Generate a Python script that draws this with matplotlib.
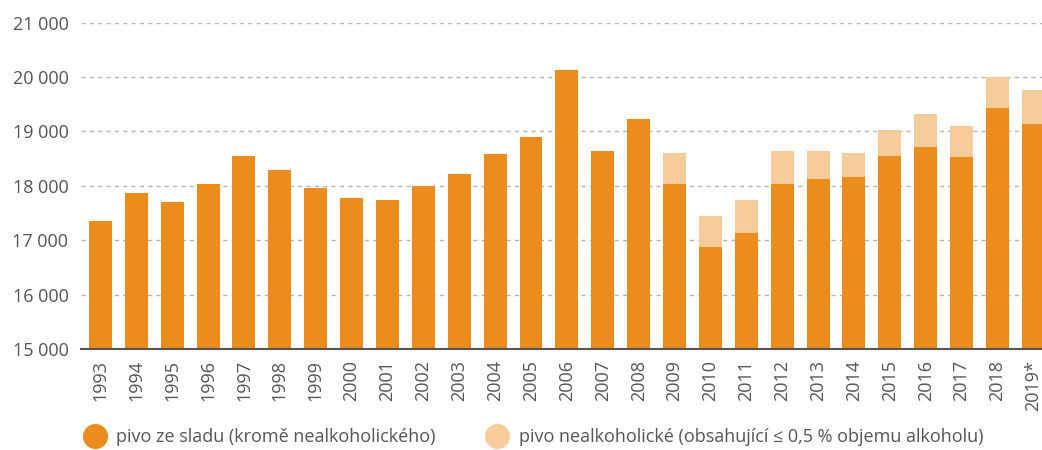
import matplotlib
matplotlib.use("Agg")
import matplotlib.pyplot as plt
from matplotlib.lines import Line2D
from matplotlib.ticker import FuncFormatter

plt.rcParams['font.family'] = ['Open Sans', 'DejaVu Sans']

# data (thousands of hl)
years = ["1993", "1994", "1995", "1996", "1997", "1998", "1999", "2000", "2001",
         "2002", "2003", "2004", "2005", "2006", "2007", "2008", "2009", "2010",
         "2011", "2012", "2013", "2014", "2015", "2016", "2017", "2018", "2019*"]
beer = [17350, 17870, 17700, 18030, 18550, 18290, 17960, 17780, 17740,
        18000, 18220, 18585, 18900, 20130, 18640, 19230, 18030, 16875,
        17130, 18030, 18125, 18160, 18550, 18710, 18530, 19430, 19135]
nonalc = [0, 0, 0, 0, 0, 0, 0, 0, 0,
          0, 0, 0, 0, 0, 0, 0, 570, 570,
          610, 610, 515, 440, 475, 610, 570, 570, 625]

orange = '#EB8C1C'
light = '#F7CC9C'
grey = '#555555'

fig = plt.figure(figsize=(10.42, 4.5), dpi=100)
ax = fig.add_axes([81 / 1042, 101 / 450, 1 - 81 / 1042, (349 - 22.5) / 450])

x = range(len(years))
ax.bar(x, [b - 15000 for b in beer], bottom=15000, width=0.64, color=orange, zorder=3)
ax.bar(x, nonalc, bottom=beer, width=0.64, color=light, zorder=3)

ax.set_ylim(15000, 21000)
ax.set_xlim(-0.54, 26.24)
ax.set_yticks(range(15000, 21001, 1000))
ax.yaxis.set_major_formatter(FuncFormatter(lambda v, p: f"{int(v):,}".replace(",", " ")))
ax.set_xticks(list(x))
ax.set_xticklabels(years, rotation=90)
ax.tick_params(axis='both', length=0, colors=grey, labelsize=13)
ax.tick_params(axis='y', pad=9)
ax.tick_params(axis='x', pad=8)

ax.grid(axis='y', linestyle=(0, (3, 3)), color='#b5b5b5', linewidth=1, zorder=0)
for s in ['top', 'right', 'left']:
    ax.spines[s].set_visible(False)
ax.spines['bottom'].set_color('#555555')
ax.spines['bottom'].set_linewidth(1.5)
ax.spines['bottom'].set_zorder(4)

handles = [
    Line2D([], [], marker='o', linestyle='', markersize=17, color=orange),
    Line2D([], [], marker='o', linestyle='', markersize=17, color=light),
]
labels = ["pivo ze sladu (kromě nealkoholického)",
          "pivo nealkoholické (obsahující ≤ 0,5 % objemu alkoholu)"]
leg = fig.legend(handles, labels, loc='lower left', bbox_to_anchor=(0.065, -0.028),
                 ncol=2, frameon=False, fontsize=13, handletextpad=0.6,
                 columnspacing=2.8, handlelength=1.2)
for t in leg.get_texts():
    t.set_color(grey)

fig.savefig("out.png", dpi=100)
